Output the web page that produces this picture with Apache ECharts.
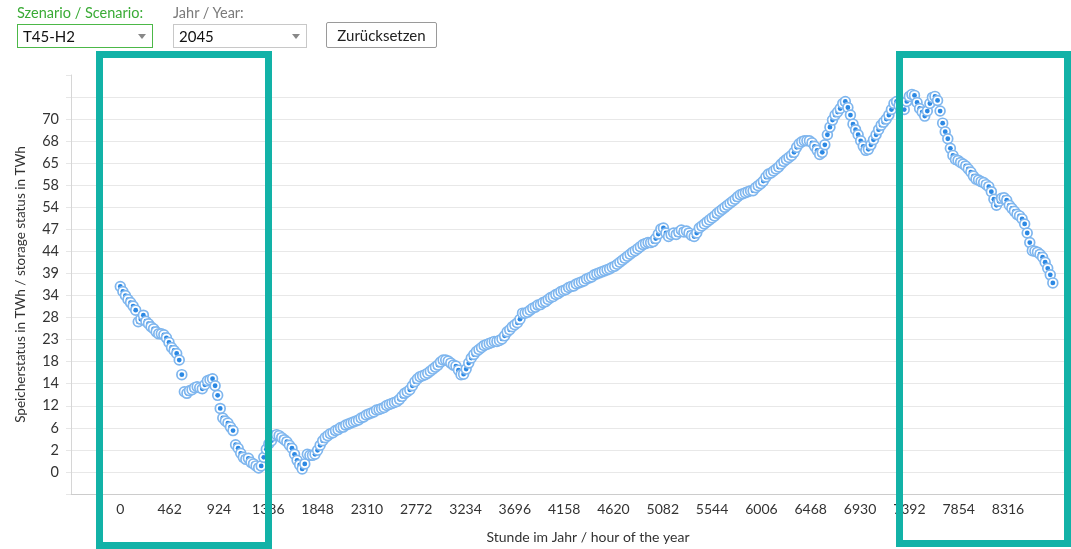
<!DOCTYPE html>
<html>
<head>
<meta charset="utf-8">
<script src="https://cdn.jsdelivr.net/npm/echarts@6/dist/echarts.min.js"></script>
<style>
  html, body { margin: 0; padding: 0; background: #fff; }
  body { width: 1071px; height: 549px; position: relative; overflow: hidden; font-family: Lato, "Open Sans", sans-serif; }
  #chart { position: absolute; left: 0; top: 0; width: 1071px; height: 549px; }
  .lbl { position: absolute; top: 4px; font-size: 14.5px; }
  .sel { position: absolute; top: 24px; height: 24px; box-sizing: border-box; background: #fff; font-size: 15px; color: #111; line-height: 22px; padding-left: 5px; }
  .sel .arr { position: absolute; right: 6px; top: 9px; width: 0; height: 0; border-left: 4px solid transparent; border-right: 4px solid transparent; border-top: 5px solid #888; }
  .btn { position: absolute; left: 326px; top: 22px; width: 111px; height: 26px; box-sizing: border-box; border: 1px solid #9a9a9a; border-radius: 2px; background: #fff; font-size: 15px; color: #222; text-align: center; line-height: 24px; }
</style>
</head>
<body>
<div id="chart"></div>
<div class="lbl" style="left:17px;color:#3aab36;">Szenario / Scenario:</div>
<div class="sel" style="left:17px;width:136px;border:1px solid #4cb848;">T45-H2<span class="arr"></span></div>
<div class="lbl" style="left:173px;color:#7a7a7a;">Jahr / Year:</div>
<div class="sel" style="left:173px;width:134px;border:1px solid #c8c8c8;">2045<span class="arr"></span></div>
<div class="btn">Zurücksetzen</div>
<script>
// Y tick labels as displayed (evenly spaced gridlines)
const yTickLabels = ['0','2','6','12','14','18','23','28','34','39','44','47','54','58','65','68','70'];
const yStep = 4.375;        // storage (TWh) between gridlines
const xTickStep = 462;      // hours between x labels
const hoursPerSample = 24;  // one reading per day

// storage status readings (TWh), one per day
const storage = [
 36.8, 35.8, 35.0, 34.2, 33.6, 32.9, 32.1, 29.8, 30.3, 31.1,
 29.9, 29.4, 28.8, 28.4, 27.8, 27.4, 27.4, 27.2, 26.6, 25.7,
 24.7, 24.1, 23.5, 22.2, 19.3, 15.9, 15.6, 16.1, 16.3, 16.7,
 16.9, 16.7, 16.5, 17.3, 18.1, 18.3, 18.5, 17.1, 15.2, 12.6,
 10.7, 10.1, 9.7, 8.9, 8.2, 5.4, 4.7, 3.7, 2.9, 2.5,
 2.7, 1.9, 1.6, 1.2, 0.8, 1.2, 2.9, 4.5, 5.6, 6.2,
 7.2, 7.4, 7.2, 6.8, 6.4, 6.0, 5.3, 4.7, 3.5, 2.3,
 1.4, 0.6, 1.6, 3.5, 3.3, 3.3, 3.5, 4.3, 5.3, 6.2,
 6.8, 7.2, 7.6, 7.8, 8.2, 8.4, 8.8, 8.9, 9.3, 9.5,
 9.7, 9.9, 10.1, 10.3, 10.7, 10.9, 11.3, 11.5, 11.7, 11.9,
 12.3, 12.4, 12.6, 12.8, 13.2, 13.4, 13.6, 13.8, 14.0, 14.4,
 15.0, 15.6, 15.9, 16.3, 17.1, 17.9, 18.5, 18.9, 19.1, 19.3,
 19.6, 20.0, 20.4, 20.8, 21.2, 21.8, 22.2, 22.2, 22.0, 21.6,
 21.2, 21.0, 20.2, 19.3, 19.4, 20.4, 21.6, 22.6, 23.3, 23.9,
 24.3, 24.7, 25.1, 25.3, 25.5, 25.7, 25.9, 25.9, 26.1, 26.4,
 27.0, 27.8, 28.2, 28.8, 29.2, 29.6, 30.3, 31.5, 31.5, 31.7,
 32.1, 32.5, 32.7, 33.1, 33.2, 33.6, 33.8, 34.2, 34.6, 34.8,
 35.2, 35.4, 35.8, 36.0, 36.2, 36.6, 36.8, 36.9, 37.3, 37.5,
 37.7, 37.9, 38.3, 38.5, 38.7, 39.1, 39.3, 39.5, 39.7, 39.9,
 40.1, 40.3, 40.6, 40.8, 41.2, 41.6, 42.0, 42.4, 42.8, 43.2,
 43.6, 43.9, 44.3, 44.7, 45.1, 45.3, 45.5, 45.5, 45.7, 46.3,
 47.2, 48.2, 48.4, 47.4, 46.7, 47.1, 47.4, 47.1, 47.6, 48.0,
 47.6, 47.8, 47.4, 46.9, 46.7, 47.4, 48.4, 48.8, 49.2, 49.6,
 50.0, 50.4, 50.8, 51.3, 51.7, 52.1, 52.5, 52.9, 53.3, 53.7,
 54.1, 54.6, 55.0, 55.2, 55.4, 55.6, 55.8, 55.8, 56.4, 56.8,
 57.2, 57.7, 58.5, 59.1, 59.3, 59.7, 60.1, 60.5, 61.1, 61.6,
 62.0, 62.4, 62.8, 63.4, 64.4, 65.1, 65.5, 65.7, 65.7, 65.7,
 65.3, 64.6, 63.8, 63.0, 63.4, 64.9, 66.9, 68.4, 69.8, 70.8,
 71.4, 72.1, 73.1, 73.5, 72.3, 70.8, 69.0, 67.9, 66.9, 65.7,
 64.6, 63.8, 64.0, 64.9, 65.9, 66.9, 67.9, 68.8, 69.4, 70.0,
 70.8, 71.9, 73.1, 73.5, 72.7, 72.3, 71.9, 73.5, 74.5, 74.9,
 74.7, 73.3, 72.1, 71.4, 70.6, 71.6, 73.1, 74.3, 74.5, 73.7,
 71.6, 69.2, 67.5, 66.1, 64.2, 62.8, 62.0, 61.8, 61.4, 61.1,
 60.7, 60.1, 59.5, 58.7, 58.1, 57.9, 57.6, 57.4, 57.0, 56.6,
 55.6, 54.1, 52.9, 53.7, 54.3, 54.4, 53.9, 52.9, 52.3, 51.7,
 51.1, 50.8, 50.2, 49.2, 47.4, 45.5, 43.9, 43.8, 43.6, 43.2,
 42.6, 41.6, 40.4, 39.1, 37.5
];

const hours = storage.map((_, i) => i * hoursPerSample);
const lastHour = hours[hours.length - 1];
const points = storage.map((v, i) => [hours[i], v]);

const chart = echarts.init(document.getElementById('chart'), null, { renderer: 'canvas' });
chart.setOption({
  animation: false,
  textStyle: { fontFamily: 'Lato' },
  grid: { left: 71, right: 6, top: 75, bottom: 47, containLabel: false },
  xAxis: {
    type: 'value',
    min: -xTickStep,
    max: 8850,
    interval: xTickStep,
    name: 'Stunde im Jahr / hour of the year',
    nameLocation: 'middle',
    nameGap: 36,
    nameTextStyle: { fontSize: 14, color: '#333', fontFamily: 'Lato', padding: [0, 0, 0, 40] },
    axisLine: { show: true, onZero: false, lineStyle: { color: '#cccccc', width: 1 } },
    axisTick: { show: false },
    splitLine: { show: false },
    axisLabel: {
      margin: 8, fontSize: 14, color: '#333', fontFamily: 'Lato',
      formatter: v => (v >= 0 && v <= lastHour) ? String(Math.round(v)) : ''
    }
  },
  yAxis: {
    type: 'value',
    min: -yStep,
    max: 18 * yStep,
    interval: yStep,
    name: 'Speicherstatus in TWh / storage status in TWh',
    nameLocation: 'middle',
    nameGap: 43,
    nameTextStyle: { fontSize: 13.5, color: '#333', fontFamily: 'Lato' },
    axisLine: { show: true, onZero: false, lineStyle: { color: '#d6d6d6', width: 1 } },
    axisTick: { show: true, length: 5, lineStyle: { color: '#e6e6e6' } },
    splitLine: { show: true, showMinLine: false, showMaxLine: false, lineStyle: { color: '#e8e8e8', width: 1 } },
    axisLabel: {
      margin: 12, fontSize: 14.5, color: '#333', fontFamily: 'Lato',
      formatter: v => {
        const i = Math.round(v / yStep);
        return (i >= 0 && i < yTickLabels.length) ? yTickLabels[i] : '';
      }
    }
  },
  series: [{
    type: 'custom',
    name: 'Speicherstatus',
    data: points,
    encode: { x: 0, y: 1 },
    clip: false,
    renderItem: (params, api) => {
      const p = api.coord([api.value(0), api.value(1)]);
      return {
        type: 'group',
        children: [
          { type: 'circle', shape: { cx: p[0], cy: p[1], r: 4.9 }, style: { fill: '#ffffff', stroke: '#7fb6ee', lineWidth: 1.7 } },
          { type: 'circle', shape: { cx: p[0], cy: p[1], r: 2.4 }, style: { fill: '#2b88e3' } }
        ]
      };
    }
  }],
  graphic: [
    { type: 'rect', z: 100, shape: { x: 99.5, y: 54.5, width: 169, height: 491 }, style: { fill: 'none', stroke: '#12b2a7', lineWidth: 7 } },
    { type: 'rect', z: 100, shape: { x: 899.5, y: 54.5, width: 168, height: 489 }, style: { fill: 'none', stroke: '#12b2a7', lineWidth: 7 } }
  ]
});
</script>
</body>
</html>
